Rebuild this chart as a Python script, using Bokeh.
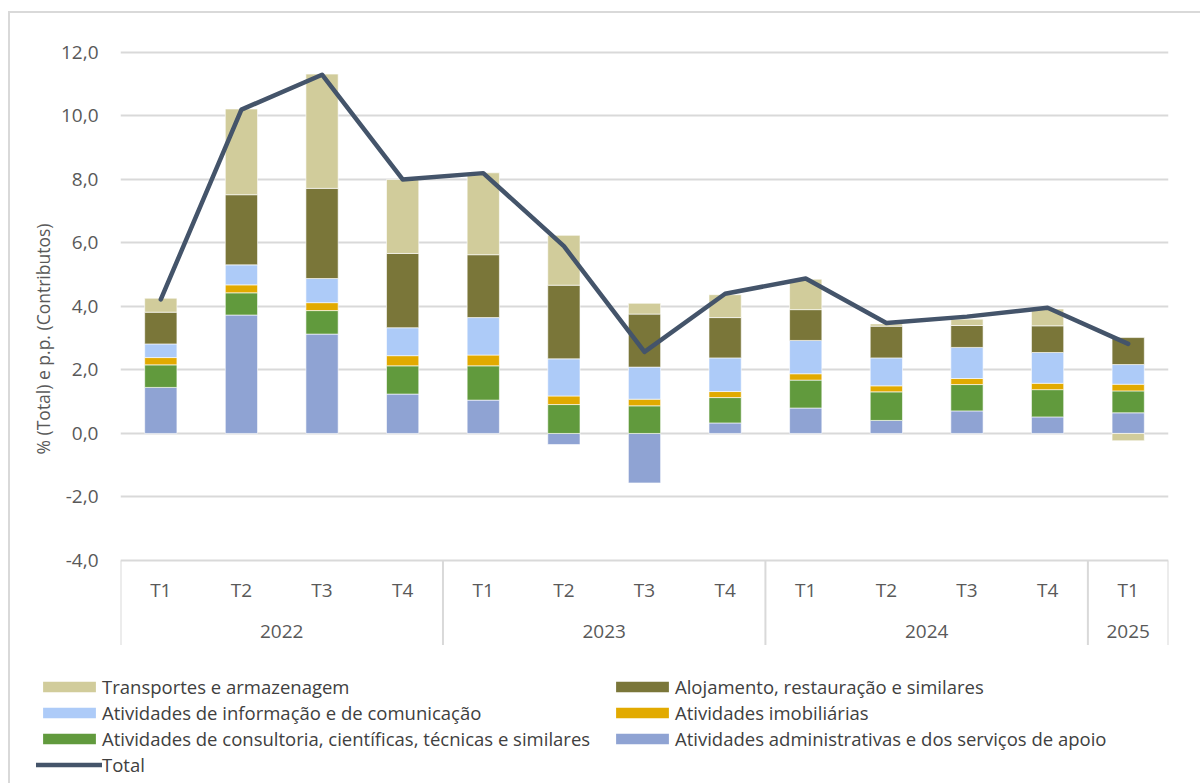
from bokeh.plotting import figure
from bokeh.layouts import column
from bokeh.models import (FactorRange, Range1d, FixedTicker, CustomJSTickFormatter,
                          Legend, LegendItem, ColumnDataSource, Title)
from bokeh.embed import file_html
from bokeh.resources import INLINE
from bokeh.core.properties import value

# ---------------- data ----------------
years = ["2022", "2022", "2022", "2022", "2023", "2023", "2023", "2023",
         "2024", "2024", "2024", "2024", "2025"]
quarters = ["T1", "T2", "T3", "T4", "T1", "T2", "T3", "T4",
            "T1", "T2", "T3", "T4", "T1"]

admin = [1.45, 3.73, 3.13, 1.24, 1.05, -0.35, -1.56, 0.33, 0.80, 0.41, 0.71, 0.52, 0.65]
consult = [0.71, 0.70, 0.74, 0.89, 1.08, 0.91, 0.87, 0.80, 0.88, 0.90, 0.83, 0.86, 0.69]
imob = [0.23, 0.25, 0.25, 0.32, 0.34, 0.27, 0.21, 0.19, 0.20, 0.19, 0.19, 0.20, 0.21]
info = [0.43, 0.63, 0.76, 0.88, 1.18, 1.17, 1.01, 1.06, 1.05, 0.88, 0.98, 0.97, 0.62]
aloj = [1.00, 2.21, 2.84, 2.34, 1.98, 2.32, 1.67, 1.27, 0.97, 1.00, 0.69, 0.84, 0.85]
transp = [0.44, 2.70, 3.60, 2.33, 2.58, 1.57, 0.34, 0.72, 0.96, 0.07, 0.20, 0.53, -0.23]
total = [4.22, 10.20, 11.30, 8.00, 8.20, 5.90, 2.57, 4.40, 4.88, 3.48, 3.68, 3.96, 2.82]

series_names = ["Atividades administrativas e dos serviços de apoio",
                "Atividades de consultoria, científicas, técnicas e similares",
                "Atividades imobiliárias",
                "Atividades de informação e de comunicação",
                "Alojamento, restauração e similares",
                "Transportes e armazenagem"]
series_values = [admin, consult, imob, info, aloj, transp]
series_colors = ["#8FA3D3", "#619A3D", "#E2AA00", "#ADCBF8", "#7A7639", "#D1CC9B"]
total_name = "Total"
total_color = "#44546A"

y_ticks = [-4, -2, 0, 2, 4, 6, 8, 10, 12]
y_label = "% (Total) e p.p. (Contributos)"

FONT = "Open Sans"
TXT = "#595959"

# ---------------- main chart ----------------
factors = list(zip(years, quarters))
x_range = FactorRange(*factors, factor_padding=0, group_padding=0, range_padding=0)
y_min, y_max = -6.68, 12.63

p = figure(width=1190, height=632, x_range=x_range, y_range=Range1d(y_min, y_max),
           output_backend="svg", toolbar_location=None, title=None,
           min_border_left=110, min_border_right=32, min_border_top=19,
           min_border_bottom=0)
p.frame_align = False
p.outline_line_color = None
p.background_fill_color = "white"
p.border_fill_color = "white"

p.xaxis.visible = False
p.xgrid.visible = False

p.yaxis.ticker = FixedTicker(ticks=y_ticks)
p.yaxis.formatter = CustomJSTickFormatter(code="return tick.toFixed(1).replace('.', ',');")
p.yaxis.axis_line_color = None
p.yaxis.major_tick_line_color = None
p.yaxis.minor_tick_line_color = None
p.yaxis.major_label_standoff = 16
p.yaxis.major_label_text_font = FONT
p.yaxis.major_label_text_font_size = "19px"
p.yaxis.major_label_text_color = TXT
p.ygrid.ticker = FixedTicker(ticks=y_ticks)
p.ygrid.grid_line_color = "#d9d9d9"
p.ygrid.grid_line_width = 2

# y-axis title, centred on the -4..12 span (shifted from the frame centre)
p.add_layout(Title(text=y_label, align="center", offset=-48, standoff=5,
                   text_font=FONT, text_font_size="17.5px", text_font_style="normal",
                   text_color=TXT), "left")

# stacked bars (positives stacked upward, negatives stacked downward)
pos_base = [0.0] * len(factors)
neg_base = [0.0] * len(factors)
for name, vals, col in zip(series_names, series_values, series_colors):
    bottoms, tops = [], []
    for i, v in enumerate(vals):
        if v >= 0:
            bottoms.append(pos_base[i]); tops.append(pos_base[i] + v); pos_base[i] += v
        else:
            bottoms.append(neg_base[i]); tops.append(neg_base[i] + v); neg_base[i] += v
    src = ColumnDataSource(dict(x=factors, bottom=bottoms, top=tops))
    p.vbar(x="x", bottom="bottom", top="top", width=0.4, source=src,
           fill_color=col, line_color="white", line_alpha=0.6, line_width=1)

p.line(x=factors, y=total, line_color=total_color, line_width=4.5,
       line_join="round", line_cap="round")

# two-level category axis below the -4 line
q_y = -4 - 30 / 31.75
yr_y = -4 - 71 / 31.75
p.text(x=factors, y=[q_y] * len(factors), text=quarters,
       text_font=value(FONT), text_font_size="19px", text_color=TXT,
       text_align="center", text_baseline="middle")
year_groups = list(dict.fromkeys(years))
p.text(x=year_groups, y=[yr_y] * len(year_groups), text=year_groups,
       text_font=value(FONT), text_font_size="19px", text_color=TXT,
       text_align="center", text_baseline="middle")

sep_x = []
for i, (yr, q) in enumerate(factors):
    if i == 0 or years[i - 1] != yr:
        sep_x.append((yr, q, -0.5))
sep_x.append((years[-1], quarters[-1], 0.5))
p.segment(x0=sep_x, x1=sep_x, y0=[y_ticks[0]] * len(sep_x), y1=[y_min] * len(sep_x),
          line_color="#d9d9d9", line_width=2)

# ---------------- legend strip ----------------
lg = figure(width=1190, height=138, x_range=Range1d(0, 1), y_range=Range1d(0, 1),
            output_backend="svg", toolbar_location=None, title=None,
            min_border_left=0, min_border_right=0, min_border_top=0, min_border_bottom=0)
lg.frame_align = False
lg.axis.visible = False
lg.grid.visible = False
lg.outline_line_color = None
lg.border_fill_color = "white"

# off-screen proxies that only supply the legend glyphs
dummy = {}
for name, col in zip(series_names, series_colors):
    dummy[name] = lg.vbar(x=[5], bottom=[5], top=[6], width=0.4, fill_color=col,
                          line_color=None)
dummy[total_name] = lg.line(x=[5, 6], y=[5, 5], line_color=total_color, line_width=4.5,
                            line_cap="round")


def make_legend(names, loc):
    items = [LegendItem(label=n, renderers=[dummy[n]]) for n in names]
    return Legend(items=items, location=loc, orientation="vertical",
                  glyph_width=66, glyph_height=13, label_standoff=-3,
                  label_height=20, spacing=1, padding=0, margin=0,
                  border_line_color=None, background_fill_alpha=0,
                  label_text_font=FONT, label_text_font_size="18.5px",
                  label_text_color="#404040")


lg.add_layout(make_legend([series_names[5], series_names[3], series_names[1], total_name],
                          (26, 6)), "center")
lg.add_layout(make_legend([series_names[4], series_names[2], series_names[0]],
                          (599, 32)), "center")

layout = column(p, lg, spacing=0)
layout.styles = {"margin-left": "8px", "margin-top": "11px",
                 "border-left": "2px solid #d9d9d9", "border-top": "2px solid #d9d9d9"}

open("out.html", "w").write(file_html(layout, INLINE))
